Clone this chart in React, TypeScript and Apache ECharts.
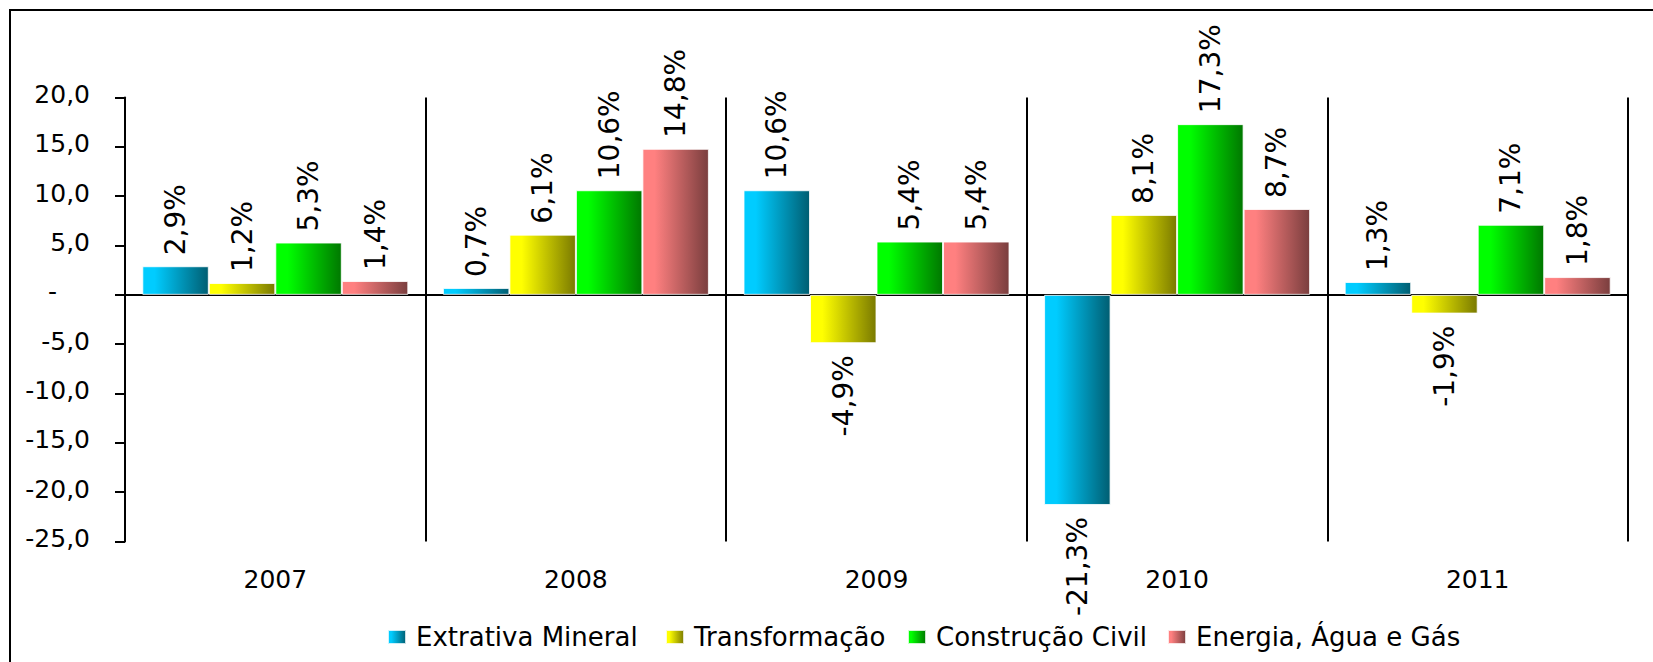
import React, { useEffect, useRef } from 'react';
import * as echarts from 'echarts';

// ---- data ----
const years = ['2007', '2008', '2009', '2010', '2011'];
const seriesNames = ['Extrativa Mineral', 'Transformação', 'Construção Civil', 'Energia, Água e Gás'];
const extrativaMineral = [2.9, 0.7, 10.6, -21.3, 1.3];
const transformacao = [1.2, 6.1, -4.9, 8.1, -1.9];
const construcaoCivil = [5.3, 10.6, 5.4, 17.3, 7.1];
const energiaAguaGas = [1.4, 14.8, 5.4, 8.7, 1.8];
const yMin = -25;
const yMax = 20;
const yStep = 5;

const FONT = 'DejaVu Sans';

const fmtNum = (v: number) => v.toFixed(1).replace('.', ',');

export default function App() {
  const ref = useRef<HTMLDivElement>(null);

  useEffect(() => {
    if (!ref.current) return;
    const chart = echarts.init(ref.current, null, { renderer: 'svg' });

    const allValues = [extrativaMineral, transformacao, construcaoCivil, energiaAguaGas];
    const colorPairs = [
      ['#00CCFF', '#005E72'],
      ['#FFFF00', '#7A7A00'],
      ['#00FF00', '#007800'],
      ['#FF8080', '#7A3E3E'],
    ];
    const legendX = [387, 665, 907, 1167];

    const series = allValues.map((vals, i) => ({
      name: seriesNames[i],
      type: 'bar',
      xAxisIndex: 0,
      barWidth: 66.5,
      barGap: '0%',
      itemStyle: {
        color: new echarts.graphic.LinearGradient(0, 0, 1, 0, [
          { offset: 0, color: colorPairs[i][0] },
          { offset: 0.18, color: colorPairs[i][0] },
          { offset: 1, color: colorPairs[i][1] },
        ]),
        borderColor: 'rgba(255,255,255,0.8)',
        borderWidth: 1,
      },
      label: {
        show: true,
        position: 'top',
        rotate: 90,
        align: 'left',
        verticalAlign: 'middle',
        distance: 19,
        offset: [-8, 0],
        fontFamily: FONT,
        fontSize: 28,
        color: '#000',
        formatter: (p: any) => fmtNum(p.value) + '%',
      },
      data: vals.map((v) =>
        v < 0
          ? { value: v, label: { position: 'bottom', align: 'right', distance: 4 } }
          : v
      ),
    }));

    chart.setOption({
      animation: false,
      backgroundColor: '#fff',
      grid: { left: 125, right: 25, top: 97.5, bottom: 120.5, containLabel: false },
      graphic: [
        {
          type: 'rect',
          silent: true,
          z: -10,
          shape: { x: 10, y: 10, width: 1700, height: 700 },
          style: { fill: 'none', stroke: '#000', lineWidth: 2 },
        },
      ],
      legend: seriesNames.map((name, i) => ({
        data: [name],
        left: legendX[i],
        top: 624,
        padding: 0,
        icon: 'rect',
        itemWidth: 18,
        itemHeight: 14,
        textStyle: { fontFamily: FONT, fontSize: 26, color: '#000', padding: [0, 0, 10, 5] },
      })),
      xAxis: [
        {
          type: 'category',
          data: years,
          position: 'bottom',
          axisLine: { show: false, onZero: false },
          axisTick: { show: false },
          axisLabel: { margin: 25, fontFamily: FONT, fontSize: 25, color: '#000' },
          splitLine: { show: true, lineStyle: { color: '#000', width: 2 } },
        },
        {
          type: 'category',
          data: years,
          position: 'bottom',
          axisLine: { show: true, onZero: true, lineStyle: { color: '#000', width: 2 } },
          axisTick: { show: false },
          axisLabel: { show: false },
          splitLine: { show: false },
        },
      ],
      yAxis: {
        type: 'value',
        min: yMin,
        max: yMax,
        interval: yStep,
        axisLine: { show: true, lineStyle: { color: '#000', width: 2 } },
        axisTick: { show: true, length: 10, lineStyle: { color: '#000', width: 2 } },
        splitLine: { show: false },
        axisLabel: {
          margin: 35,
          fontFamily: FONT,
          fontSize: 25,
          color: '#000',
          padding: [0, 0, 6, 0],
          formatter: (v: number) => (v === 0 ? '{z|-}' : fmtNum(v)),
          rich: {
            z: { fontFamily: FONT, fontSize: 25, color: '#000', padding: [0, 33, 0, 0] },
          },
        },
      },
      series,
    });

    return () => chart.dispose();
  }, []);

  return (
    <div
      ref={ref}
      style={{ position: 'fixed', left: 0, top: 0, width: 1653, height: 662, background: '#fff' }}
    />
  );
}
